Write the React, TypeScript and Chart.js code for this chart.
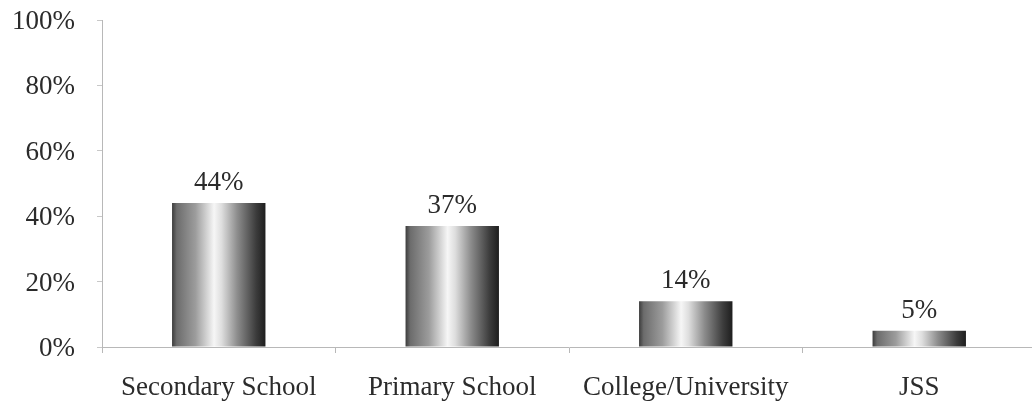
import React, { useEffect, useRef } from "react";
import { Chart, registerables } from "chart.js";

Chart.register(...registerables);

// Share of respondents by level of education
const categories: string[] = ["Secondary School", "Primary School", "College/University", "JSS"];
const shares: number[] = [44, 37, 14, 5];
const yTicks: number[] = [0, 20, 40, 60, 80, 100];

const FONT = "'Liberation Serif', 'Times New Roman', serif";
const TEXT = "#2b2b2b";
const BAR_FRACTION = 0.4;

// Metallic cylinder shading across each bar
function barGradient(ctx: any) {
  const chart = ctx.chart;
  const xs = chart.scales?.x;
  const fallback = "#8a8a8a";
  if (!xs || ctx.dataIndex === undefined) return fallback;
  const cx = xs.getPixelForValue(ctx.dataIndex);
  const w = (xs.width / categories.length) * BAR_FRACTION;
  if (!isFinite(cx) || !isFinite(w) || w <= 0) return fallback;
  const g = chart.ctx.createLinearGradient(cx - w / 2, 0, cx + w / 2, 0);
  g.addColorStop(0, "#3c3c3c");
  g.addColorStop(0.05, "#6c6c6c");
  g.addColorStop(0.25, "#9c9c9c");
  g.addColorStop(0.45, "#f6f6f6");
  g.addColorStop(0.53, "#dedede");
  g.addColorStop(0.7, "#8c8c8c");
  g.addColorStop(0.9, "#3c3c3c");
  g.addColorStop(1, "#1e1e1e");
  return g;
}

// Percentage labels above each bar
const valueLabels = {
  id: "valueLabels",
  afterDatasetsDraw(chart: any) {
    const { ctx } = chart;
    const meta = chart.getDatasetMeta(0);
    ctx.save();
    ctx.font = `27px ${FONT}`;
    ctx.fillStyle = TEXT;
    ctx.textAlign = "center";
    ctx.textBaseline = "alphabetic";
    meta.data.forEach((bar: any, i: number) => {
      ctx.fillText(`${shares[i]}%`, bar.x, bar.y - 13);
    });
    ctx.restore();
  },
};

export default function App() {
  const canvasRef = useRef<HTMLCanvasElement | null>(null);

  useEffect(() => {
    document.body.style.margin = "0";
    document.body.style.overflow = "hidden";
    const canvas = canvasRef.current;
    if (!canvas) return;
    const chart = new Chart(canvas, {
      type: "bar",
      data: {
        labels: categories,
        datasets: [
          {
            data: shares,
            backgroundColor: barGradient,
            borderWidth: 0,
            categoryPercentage: 1,
            barPercentage: BAR_FRACTION,
          },
        ],
      },
      options: {
        animation: false,
        responsive: true,
        maintainAspectRatio: false,
        layout: { padding: { left: 12, right: 4, top: 20, bottom: 4 } },
        plugins: {
          legend: { display: false },
          tooltip: { enabled: false },
        },
        scales: {
          x: {
            offset: true,
            afterFit: (s: any) => {
              s.height = 54;
              s.paddingLeft = 0;
              s.paddingRight = 0;
            },
            border: { display: true, color: "#b8b8b8", width: 1 },
            grid: {
              offset: true,
              drawOnChartArea: false,
              drawTicks: true,
              tickLength: 6,
              tickColor: "#b8b8b8",
            },
            ticks: {
              font: { family: FONT, size: 27 },
              color: TEXT,
              padding: 19,
              maxRotation: 0,
              autoSkip: false,
            },
          },
          y: {
            min: 0,
            max: 100,
            afterBuildTicks: (axis: any) => {
              axis.ticks = yTicks.map((v) => ({ value: v }));
            },
            afterFit: (s: any) => {
              s.width = 90;
              s.paddingTop = 0;
              s.paddingBottom = 0;
            },
            border: { display: true, color: "#b8b8b8", width: 1 },
            grid: {
              drawOnChartArea: false,
              drawTicks: true,
              tickLength: 5,
              tickColor: "#c8c8c8",
            },
            ticks: {
              font: { family: FONT, size: 27 },
              color: TEXT,
              padding: 22,
              labelOffset: 2,
              callback: (v: any) => `${v}%`,
            },
          },
        },
      },
      plugins: [valueLabels],
    });
    return () => chart.destroy();
  }, []);

  return (
    <div style={{ position: "absolute", left: 0, top: 0, width: 1040, height: 405, background: "#ffffff" }}>
      <canvas ref={canvasRef} />
    </div>
  );
}
